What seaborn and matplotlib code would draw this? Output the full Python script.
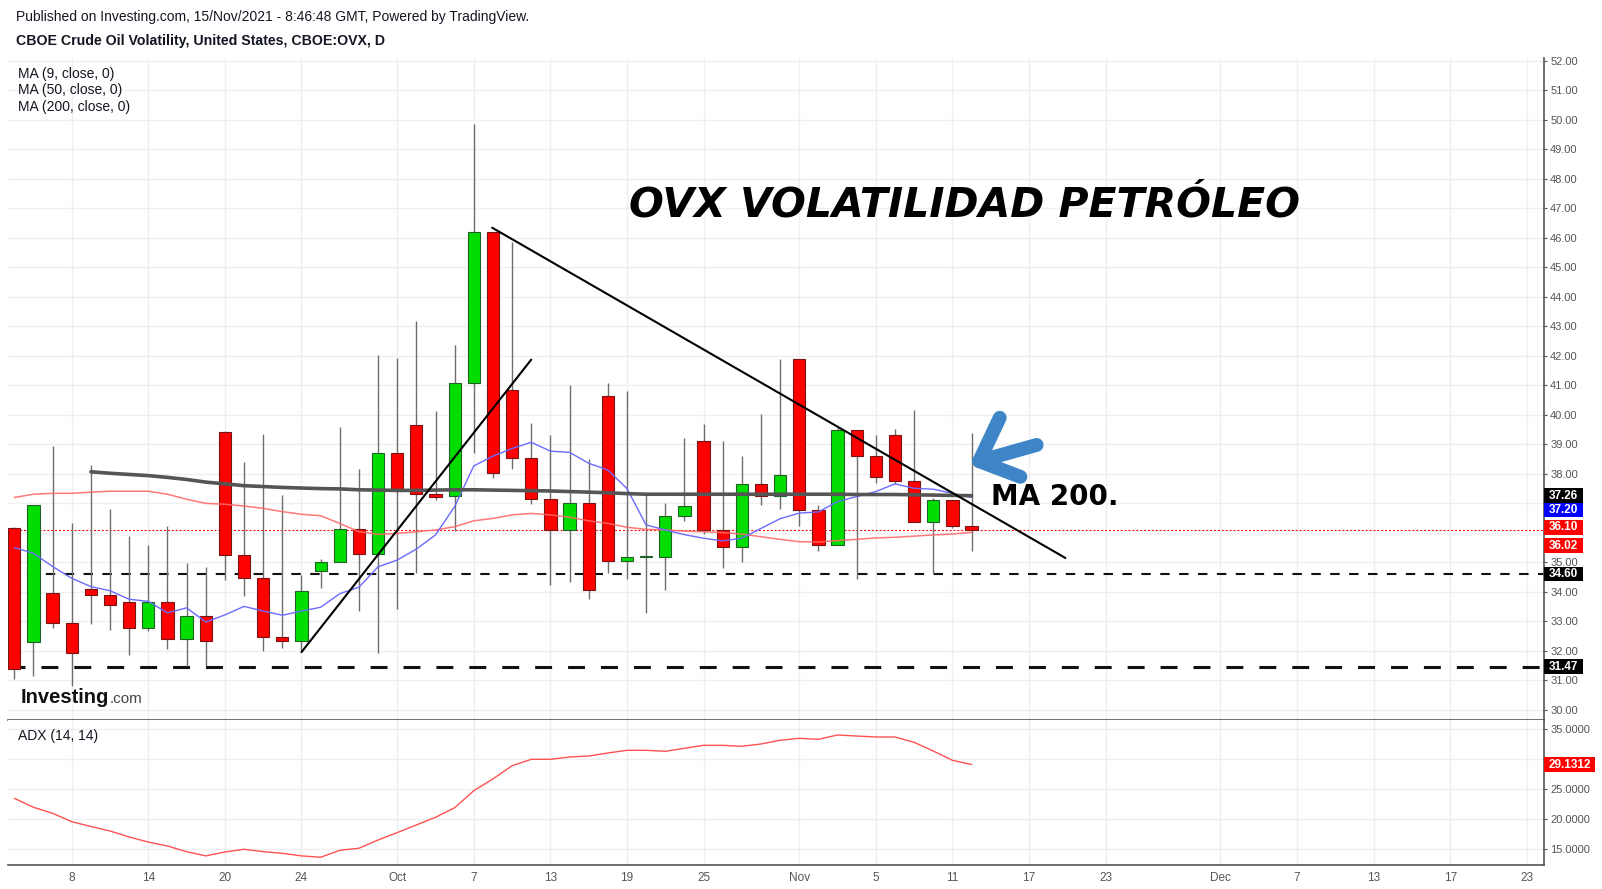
import numpy as np
import pandas as pd
import matplotlib
matplotlib.use("Agg")
import matplotlib.pyplot as plt
import seaborn as sns
from matplotlib.patches import Rectangle
from matplotlib.transforms import blended_transform_factory, offset_copy, Bbox, TransformedBbox

# ---------------- data ----------------
opens = [36.16, 32.29, 33.95, 32.94, 34.11, 33.88, 33.65, 32.77, 33.65, 32.40,
         33.17, 39.41, 35.24, 34.46, 32.46, 32.33, 34.70, 35.00, 36.12, 35.27,
         38.70, 39.64, 37.31, 37.25, 41.07, 46.18, 40.83, 38.53, 37.14, 36.10,
         37.00, 40.63, 35.04, 35.17, 35.17, 36.56, 39.13, 36.09, 35.51, 37.65,
         37.24, 41.88, 36.76, 35.58, 39.47, 38.59, 39.31, 37.75, 36.36, 37.10,
         36.22]
highs = [36.20, 36.95, 38.94, 36.32, 38.30, 36.80, 35.89, 35.59, 36.23, 34.98,
         34.83, 39.45, 38.40, 39.35, 37.27, 34.57, 35.12, 39.58, 38.15, 42.04,
         41.93, 43.18, 40.13, 42.36, 49.85, 46.20, 45.84, 39.73, 39.32, 41.01,
         38.49, 41.07, 40.80, 37.31, 37.01, 39.21, 39.69, 39.11, 38.60, 40.03,
         41.89, 41.90, 36.94, 39.60, 39.50, 39.31, 39.52, 40.16, 37.19, 37.10,
         39.37]
lows = [31.05, 31.16, 32.77, 30.82, 32.92, 32.72, 31.87, 32.69, 32.08, 31.49,
        31.49, 34.41, 33.87, 32.01, 32.11, 31.95, 34.14, 35.00, 33.34, 31.94,
        33.43, 34.65, 37.11, 36.06, 38.70, 37.85, 38.15, 36.97, 34.23, 34.32,
        33.77, 34.63, 34.45, 33.29, 34.05, 36.39, 35.95, 34.80, 35.03, 36.95,
        36.82, 36.24, 35.40, 35.58, 34.45, 37.70, 37.66, 36.36, 34.63, 36.15,
        35.39]
closes = [31.38, 36.93, 32.94, 31.92, 33.88, 33.55, 32.77, 33.65, 32.40, 33.17,
          32.33, 35.24, 34.46, 32.46, 32.33, 34.02, 35.00, 36.12, 35.27, 38.70,
          37.42, 37.31, 37.23, 41.07, 46.18, 38.02, 38.53, 37.14, 36.10, 37.00,
          34.06, 35.04, 35.17, 35.18, 36.56, 36.90, 36.09, 35.51, 37.65, 37.24,
          37.95, 36.76, 35.58, 39.47, 38.59, 37.89, 37.75, 36.36, 37.10, 36.22,
          36.10]
ma9 = [35.50, 35.31, 34.86, 34.46, 34.18, 34.04, 33.75, 33.68, 33.29, 33.46,
       32.98, 33.22, 33.51, 33.35, 33.21, 33.35, 33.48, 33.94, 34.16, 34.85,
       35.08, 35.45, 35.93, 36.89, 38.27, 38.60, 38.86, 39.07, 38.77, 38.73,
       38.36, 38.13, 37.50, 36.27, 36.10, 35.94, 35.82, 35.73, 35.82, 36.15,
       36.48, 36.67, 36.71, 37.06, 37.23, 37.40, 37.66, 37.51, 37.48, 37.34,
       37.20]
ma50 = [37.20, 37.31, 37.34, 37.34, 37.38, 37.41, 37.41, 37.41, 37.31, 37.14,
        37.00, 36.97, 36.91, 36.83, 36.72, 36.63, 36.58, 36.32, 36.04, 35.95,
        35.98, 36.04, 36.10, 36.21, 36.41, 36.49, 36.61, 36.66, 36.61, 36.53,
        36.41, 36.32, 36.19, 36.12, 36.10, 36.06, 36.04, 36.01, 35.96, 35.87,
        35.78, 35.70, 35.69, 35.74, 35.78, 35.83, 35.85, 35.89, 35.93, 35.96,
        36.02]
ma200_first_bar = 4
ma200 = [38.07, 38.02, 37.98, 37.94, 37.88, 37.81, 37.72, 37.66, 37.60, 37.57,
         37.54, 37.52, 37.50, 37.49, 37.46, 37.45, 37.44, 37.44, 37.45, 37.46,
         37.46, 37.45, 37.44, 37.43, 37.42, 37.40, 37.38, 37.36, 37.33, 37.31,
         37.31, 37.31, 37.31, 37.31, 37.31, 37.31, 37.31, 37.31, 37.31, 37.31,
         37.30, 37.30, 37.30, 37.29, 37.28, 37.27, 37.26]
adx = [23.50, 22.00, 21.00, 19.60, 18.80, 18.05, 17.05, 16.20, 15.55, 14.60,
       13.90, 14.55, 15.00, 14.60, 14.33, 13.90, 13.67, 14.83, 15.17, 16.55,
       17.78, 19.05, 20.33, 21.93, 24.77, 26.72, 28.93, 30.00, 30.00, 30.38,
       30.55, 31.05, 31.50, 31.50, 31.33, 31.83, 32.33, 32.33, 32.17, 32.55,
       33.17, 33.50, 33.33, 34.05, 33.88, 33.72, 33.72, 32.83, 31.38, 29.83,
       29.13]
support_levels = [34.60, 31.47]
last_close = 36.10
uptrend_bars, uptrend_prices = [15.0, 27.0], [31.96, 41.87]
downtrend_bars, downtrend_prices = [24.96, 54.9], [46.34, 35.15]
tick_dates = ["2021-09-08", "2021-09-14", "2021-09-20", "2021-09-24", "2021-10-01",
              "2021-10-07", "2021-10-13", "2021-10-19", "2021-10-25", "2021-11-01",
              "2021-11-05", "2021-11-11", "2021-11-17", "2021-11-23", "2021-12-01",
              "2021-12-07", "2021-12-13", "2021-12-17", "2021-12-23"]
tick_labels = ["8", "14", "20", "24", "Oct", "7", "13", "19", "25", "Nov",
               "5", "11", "17", "23", "Dec", "7", "13", "17", "23"]
price_ticks = list(range(30, 53))
adx_ticks = [15, 20, 25, 30, 35]
# scale labels that sit under the value tags in the original
hidden_price_labels = [36, 37]
hidden_adx_labels = [30]

# trading sessions (bar index axis, future bars projected on weekdays)
past = pd.bdate_range("2021-09-02", "2021-11-12").drop(pd.Timestamp("2021-09-06"))
future = pd.bdate_range("2021-11-15", "2021-12-23")
sessions = past.append(future)
tick_pos = [sessions.get_loc(pd.Timestamp(d)) for d in tick_dates]

# ---------------- style ----------------
sns.set_theme(style="white")
plt.rcParams['font.family'] = ['Liberation Sans', 'DejaVu Sans']
plt.rcParams['lines.scale_dashes'] = False

W, H = 1602, 889
fig = plt.figure(figsize=(W / 100, H / 100), dpi=100)
fig.patch.set_facecolor('white')
L, R, TOP, SEP, BOT = 8, 1544, 58, 720, 865
ax = fig.add_axes([L / W, 1 - SEP / H, (R - L) / W, (SEP - TOP) / H])
ax2 = fig.add_axes([L / W, 1 - BOT / H, (R - L) / W, (BOT - SEP) / H], sharex=ax)

GRID = '#efefef'
AXC = '#555555'
ax.set_xlim(-0.33, 79.9)
ax.set_ylim(29.66, 52.09)
ax2.set_ylim(12.38, 36.55)

for a in (ax, ax2):
    a.set_facecolor('white')
    for s in ('left', 'top'):
        a.spines[s].set_visible(False)
    for s in ('right', 'bottom'):
        a.spines[s].set_color(AXC)
        a.spines[s].set_linewidth(1.2)
    a.yaxis.tick_right()
    a.set_xticks(tick_pos)
    a.grid(True, color=GRID, linewidth=1)
    a.set_axisbelow(True)
    a.tick_params(axis='y', which='both', direction='out', length=2.5, width=0.8,
                  color=AXC, labelcolor=AXC, labelsize=8, pad=2, right=True, left=False)

ax.set_yticks(price_ticks)
ax.set_yticklabels(["" if v in hidden_price_labels else f"{v:.2f}" for v in price_ticks])
ax2.set_yticks(adx_ticks)
ax2.set_yticklabels(["" if v in hidden_adx_labels else f"{v:.4f}" for v in adx_ticks])
ax.tick_params(axis='x', labelbottom=False, length=0)
ax2.set_xticklabels(tick_labels)
ax2.tick_params(axis='x', length=0, labelsize=8.5, labelcolor=AXC, pad=5)

# ---------------- horizontal levels ----------------
ax.axhline(last_close, color='#ff0000', lw=0.8, dashes=(1.4, 1.4), zorder=2)
ax.axhline(support_levels[0], color='#111111', lw=1.5, dashes=(6.8, 6.8), zorder=2)
ax.axhline(support_levels[1], color='#111111', lw=2.2, dashes=(12.2, 11.5), zorder=2)

# ---------------- candles ----------------
x = np.arange(len(opens))
o, h, l, c = map(np.asarray, (opens, highs, lows, closes))
up = c >= o
ax.vlines(x, l, h, color='#6e6e6e', lw=1.0, zorder=3)
body_bottom = np.minimum(o, c)
body_h = np.maximum(np.abs(c - o), 0.03)
ax.bar(x, body_h, bottom=body_bottom, width=0.64,
       color=np.where(up, '#00dd00', '#ff0000'),
       edgecolor=np.where(up, '#22602a', '#7a1414'), linewidth=0.8, zorder=4)

# ---------------- moving averages ----------------
sns.lineplot(x=np.arange(len(ma50)), y=ma50, ax=ax, color='#ff6a6a', linewidth=1.1,
             alpha=0.9, zorder=5, legend=False)
sns.lineplot(x=np.arange(len(ma9)), y=ma9, ax=ax, color='#6b6bff', linewidth=1.0,
             zorder=5, legend=False)
sns.lineplot(x=np.arange(ma200_first_bar, ma200_first_bar + len(ma200)), y=ma200, ax=ax,
             color='#555555', linewidth=2.6, zorder=5, legend=False)
ax.set_xlabel('')
ax.set_ylabel('')

# ---------------- trend lines and annotations ----------------
ax.plot(uptrend_bars, uptrend_prices, color='black', lw=1.5, zorder=6)
ax.plot(downtrend_bars, downtrend_prices, color='black', lw=1.5, zorder=6)

# blue hand-drawn arrow, in bar/price coordinates
ARROW = '#3d85c6'
ax.plot([51.47, 50.40, 52.55], [39.90, 38.43, 37.90], color=ARROW, lw=10,
        solid_capstyle='round', solid_joinstyle='round', zorder=7)
ax.plot([50.40, 53.40], [38.43, 38.98], color=ARROW, lw=10,
        solid_capstyle='round', zorder=7)

fig.text(629 / W, 1 - 216.5 / H, "OVX VOLATILIDAD PETRÓLEO", fontsize=29.5,
         fontweight='bold', fontstyle='italic', family='DejaVu Sans', va='baseline',
         color='black')
fig.text(991 / W, 1 - 505 / H, "MA 200.", fontsize=20, fontweight='bold',
         family='DejaVu Sans', va='baseline', color='black', zorder=8)

# ---------------- ADX ----------------
sns.lineplot(x=np.arange(len(adx)), y=adx, ax=ax2, color='#ff5252', linewidth=1.0,
             legend=False)
ax2.set_xlabel('')
ax2.set_ylabel('')

# ---------------- value tags on the scale ----------------
def tag(axis, value, text, color, dy_px, w_px, h_px):
    pos = axis.get_position()
    ax_w = pos.width * W
    y0, y1 = axis.get_ylim()
    ppu = pos.height * H / (y1 - y0)
    base = blended_transform_factory(axis.transAxes, axis.transData)
    tr = offset_copy(base, fig=fig, x=0, y=-dy_px, units='dots')
    axis.add_patch(Rectangle((1.0, value - h_px / 2 / ppu), w_px / ax_w, h_px / ppu,
                             transform=tr, facecolor=color, edgecolor='none',
                             clip_on=False, zorder=10))
    axis.text(1.0 + w_px / 2 / ax_w, value, text, transform=tr, ha='center',
              va='center', color='white', fontsize=8.5, fontweight='bold',
              clip_on=False, zorder=11)

tag(ax, ma200[-1], f"{ma200[-1]:.2f}", '#000000', 0, 39, 14.5)
tag(ax, ma9[-1], f"{ma9[-1]:.2f}", '#0000ff', 12.6, 39, 14.5)
tag(ax, last_close, f"{last_close:.2f}", '#ff0000', -2.5, 39, 14.5)
tag(ax, ma50[-1], f"{ma50[-1]:.2f}", '#ff0000', 13.3, 39, 15.5)
tag(ax, support_levels[0], f"{support_levels[0]:.2f}", '#000000', 0, 39, 14.5)
tag(ax, support_levels[1], f"{support_levels[1]:.2f}", '#000000', 0, 39, 14.5)
tag(ax2, adx[-1], "29.1312", '#ff0000', 0, 51, 15.4)

# clip the half-visible top label like the original
top_lab = ax.yaxis.get_major_ticks()[-1].label2
top_lab.set_clip_box(TransformedBbox(Bbox([[0, 0], [1, 1 - 57 / H]]), fig.transFigure))
top_lab.set_clip_on(True)

# ---------------- header / legend texts ----------------
TXT = '#131722'
fig.text(16 / W, 1 - 17.5 / H,
         "Published on Investing.com, 15/Nov/2021 - 8:46:48 GMT, Powered by TradingView.",
         fontsize=10, va='center', color=TXT)
fig.text(16 / W, 1 - 41 / H, "CBOE Crude Oil Volatility, United States, CBOE:OVX, D",
         fontsize=10.2, fontweight='bold', va='center', color=TXT)
for i, s in enumerate(["MA (9, close, 0)", "MA (50, close, 0)", "MA (200, close, 0)"]):
    fig.text(17.5 / W, 1 - (73.8 + 16.6 * i) / H, s, fontsize=10, va='center', color=TXT)
fig.text(17.5 / W, 1 - 736 / H, "ADX (14, 14)", fontsize=10, va='center', color=TXT)

# Investing.com logo
fig.text(21 / W, 1 - 703 / H, "Investing", fontsize=14.5, fontweight='bold',
         va='baseline', color='#111111')
fig.text(110 / W, 1 - 703 / H, ".com", fontsize=11, va='baseline', color='#444444')

fig.savefig("out.png", dpi=100, facecolor='white')
